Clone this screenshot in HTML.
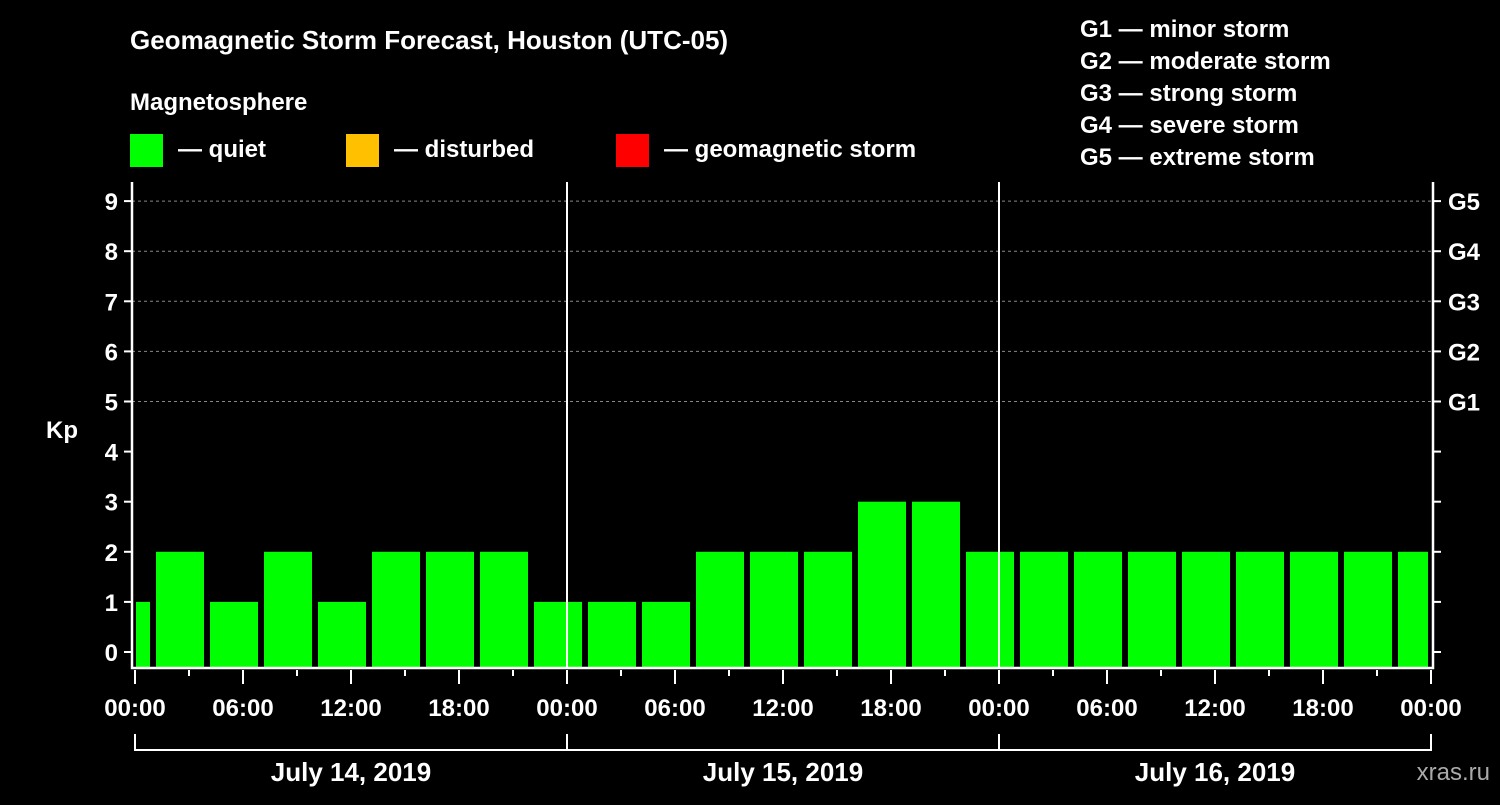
<!DOCTYPE html>
<html><head><meta charset="utf-8"><style>
body{margin:0;background:#000;width:1500px;height:800px;overflow:hidden}
svg text{font-family:"Liberation Sans",Arial,sans-serif;font-weight:bold;fill:#fff}
</style></head><body>
<svg id="c" width="1500" height="800">
<text x="130" y="49" font-size="26">Geomagnetic Storm Forecast, Houston (UTC-05)</text>
<text x="130" y="110" font-size="24">Magnetosphere</text>
<g><rect x="130" y="134" width="33" height="33" fill="#00ff00"/><text x="178" y="157" font-size="24">— quiet</text></g>
<g><rect x="346" y="134" width="33" height="33" fill="#ffc000"/><text x="394" y="157" font-size="24">— disturbed</text></g>
<g><rect x="616" y="134" width="33" height="33" fill="#ff0000"/><text x="664" y="157" font-size="24">— geomagnetic storm</text></g>
<g font-size="24">
<text x="1080" y="37">G1 — minor storm</text>
<text x="1080" y="69">G2 — moderate storm</text>
<text x="1080" y="101">G3 — strong storm</text>
<text x="1080" y="133">G4 — severe storm</text>
<text x="1080" y="165">G5 — extreme storm</text>
</g>
<text x="62" y="438" font-size="24" text-anchor="middle">Kp</text>
<text x="1490" y="780" font-size="24" text-anchor="end" fill="#aaa" style="fill:#aaa;font-weight:normal">xras.ru</text>
<g id="g"></g>
</svg>
<script>
const kpValues=[1,2,1,2,1,2,2,2,1,1,1,2,2,2,3,3,2,2,2,2,2,2,2,2,2];
const yTicks=[0,1,2,3,4,5,6,7,8,9];
const stormLabels=["G1","G2","G3","G4","G5"];
const hourLabels=["00:00","06:00","12:00","18:00"];
const dayLabels=["July 14, 2019","July 15, 2019","July 16, 2019"];
const NS="http://www.w3.org/2000/svg";
const g=document.getElementById('g');
const X0=135,PH=18,L=132,R=1433,T=182,B=668;
const xs=h=>X0+h*PH;
const ys=v=>652-v*50.1;
function mk(t,a,txt){const e=document.createElementNS(NS,t);for(const k in a)e.setAttribute(k,a[k]);if(txt!=null)e.textContent=txt;g.appendChild(e);return e;}
// grid
for(let i=5;i<=9;i++){const e=mk('line',{x1:L,x2:R,y1:ys(i),y2:ys(i),stroke:'#888','stroke-dasharray':'3,3','stroke-width':1});

}
// bars: 3-hour bins starting at -2h
kpValues.forEach((v,k)=>{let a=xs(-2+3*k)+3,b=xs(1+3*k)-3;a=Math.max(a,X0+1);b=Math.min(b,R-5);
const e=mk('rect',{x:a,y:ys(v),width:b-a,height:B-ys(v),fill:v>=5?'#ff0000':(v>=4?'#ffc000':'#00ff00')});

});
// axes
const ax=mk('path',{d:`M${L} ${T}V${B}H${R}V${T}`,fill:'none',stroke:'#fff','stroke-width':2.5});


yTicks.forEach(v=>{mk('line',{x1:L-8,x2:L,y1:ys(v),y2:ys(v),stroke:'#fff','stroke-width':2});
mk('line',{x1:R,x2:R+8,y1:ys(v),y2:ys(v),stroke:'#fff','stroke-width':2});
const t=mk('text',{x:L-14,y:ys(v)+9,'font-size':24,'text-anchor':'end'},String(v));

});
stormLabels.forEach((s,i)=>{const t=mk('text',{x:1448,y:ys(5+i)+9,'font-size':24},s);

});
// day separators
[1,2].forEach(d=>{const e=mk('line',{x1:xs(24*d),x2:xs(24*d),y1:T,y2:B,stroke:'#fff','stroke-width':2});

});
// x ticks
for(let h=0;h<=72;h+=3){const major=h%6==0;mk('line',{x1:xs(h),x2:xs(h),y1:B+2,y2:B+(major?16:8),stroke:'#fff','stroke-width':2});
if(major){const t=mk('text',{x:xs(h),y:716,'font-size':24,'text-anchor':'middle'},hourLabels[(h/6)%4]);

}}
// day bracket
mk('path',{d:`M${xs(0)} ${734}V${750}H${xs(72)}V734`,fill:'none',stroke:'#fff','stroke-width':2});
[1,2].forEach(d=>mk('line',{x1:xs(24*d),x2:xs(24*d),y1:734,y2:750,stroke:'#fff','stroke-width':2}));
dayLabels.forEach((s,i)=>{const t=mk('text',{x:xs(24*i+12),y:781,'font-size':26,'text-anchor':'middle'},s);

});
</script>
</body></html>
